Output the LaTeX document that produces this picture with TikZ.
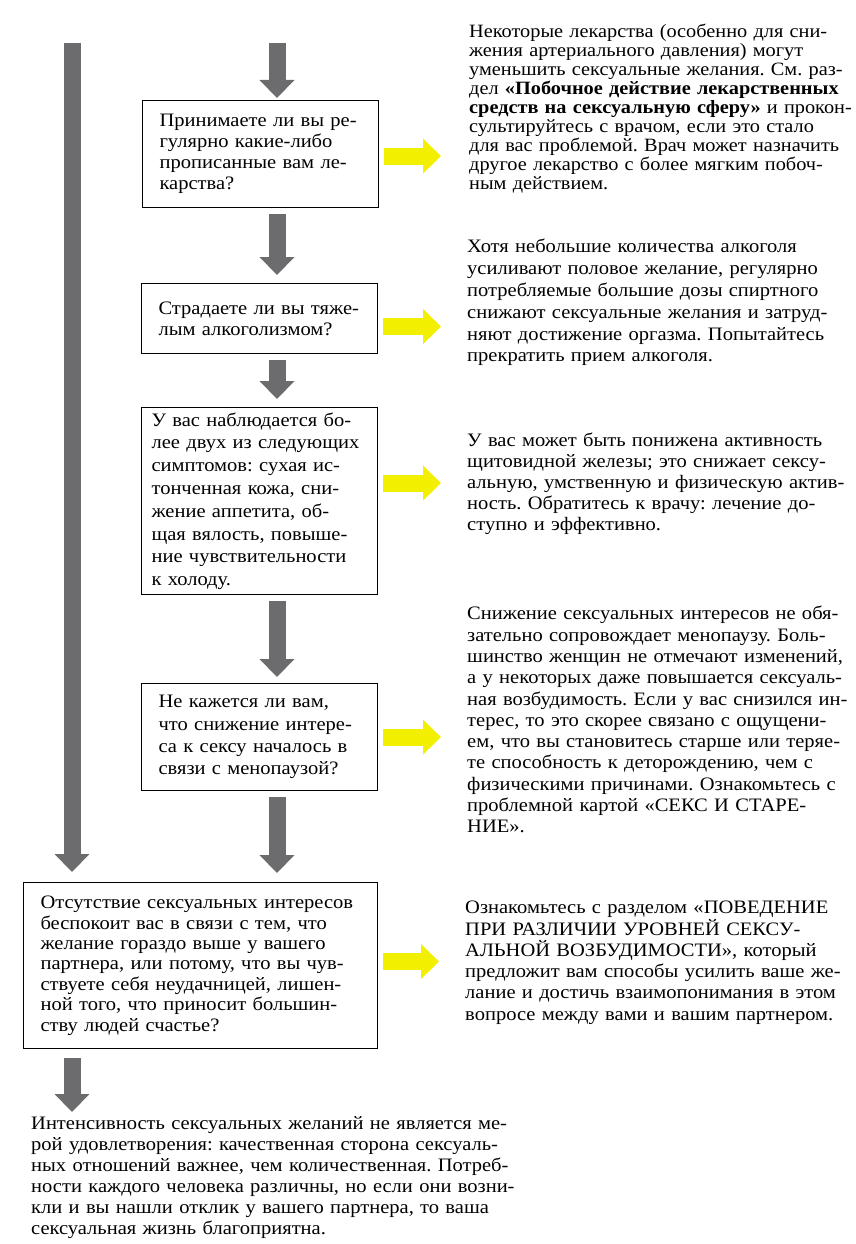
\documentclass[tikz,border=0pt]{standalone}
\usepackage{fontspec}
\setmainfont{Liberation Serif}[FakeStretch=1.08]
\usetikzlibrary{arrows.meta}
\frenchspacing

\definecolor{arrowgray}{RGB}{108,108,110}
\definecolor{arrowyellow}{RGB}{242,240,0}

\begin{document}
\begin{tikzpicture}[x=1pt,y=-1pt,
  qbox/.style={draw,line width=1.1pt,inner xsep=17pt,inner ysep=0pt,align=left,
    anchor=north west,font=\fontsize{19}{21}\selectfont},
  note/.style={inner sep=0pt,align=left,anchor=north west,text width=390pt,
    font=\fontsize{19}{21}\selectfont},
  grayarrow/.style={draw=arrowgray,line width=17pt,-{Triangle[length=18pt,width=34pt]}},
  yellowarrow/.style={draw=arrowyellow,line width=17pt,-{Triangle[length=18pt,width=34pt]}}]
\useasboundingbox (0,0) rectangle (856,1244);

% questions
\node[qbox,text width=202pt,minimum height=107pt] (q1) at (142,100)
  {Принимаете ли вы ре-\\гулярно какие-либо\\прописанные вам ле-\\карства?};
\node[qbox,text width=202pt,minimum height=70pt] (q2) at (141,283)
  {Страдаете ли вы тяже-\\лым алкоголизмом?};
\node[qbox,inner xsep=10pt,text width=216pt,minimum height=187pt,
  font=\fontsize{19}{22.8}\selectfont] (q3) at (141,407)
  {У вас наблюдается бо-\\лее двух из следующих\\симптомов: сухая ис-\\тонченная кожа, сни-\\жение аппетита, об-\\щая вялость, повыше-\\ние чувствительности\\к холоду.};
\node[qbox,text width=202pt,minimum height=107pt,
  font=\fontsize{19}{22.2}\selectfont] (q4) at (141,683)
  {Не кажется ли вам,\\что снижение интере-\\са к сексу началось в\\связи с менопаузой?};
\node[qbox,text width=320pt,minimum height=166pt,
  font=\fontsize{19}{20.4}\selectfont] (q5) at (23,882)
  {Отсутствие сексуальных интересов\\беспокоит вас в связи с тем, что\\желание гораздо выше у вашего\\партнера, или потому, что вы чув-\\ствуете себя неудачницей, лишен-\\ной того, что приносит большин-\\ству людей счастье?};

% answers
\node[note,font=\fontsize{18.8}{19}\selectfont] (n1) at (469,24)
  {Некоторые лекарства (особенно для сни-\\жения артериального давления) могут\\уменьшить сексуальные желания. См. раз-\\дел \textbf{«Побочное действие лекарственных}\\\textbf{средств на сексуальную сферу»} и прокон-\\сультируйтесь с врачом, если это стало\\для вас проблемой. Врач может назначить\\другое лекарство с более мягким побоч-\\ным действием.};
\node[note,font=\fontsize{19}{21.8}\selectfont] (n2) at (467,239)
  {Хотя небольшие количества алкоголя\\усиливают половое желание, регулярно\\потребляемые большие дозы спиртного\\снижают сексуальные желания и затруд-\\няют достижение оргазма. Попытайтесь\\прекратить прием алкоголя.};
\node[note,font=\fontsize{19}{20.8}\selectfont] (n3) at (467,433)
  {У вас может быть понижена активность\\щитовидной железы; это снижает сексу-\\альную, умственную и физическую актив-\\ность. Обратитесь к врачу: лечение до-\\ступно и эффективно.};
\node[note,font=\fontsize{19}{21.3}\selectfont] (n4) at (467,606)
  {Снижение сексуальных интересов не обя-\\зательно сопровождает менопаузу. Боль-\\шинство женщин не отмечают изменений,\\а у некоторых даже повышается сексуаль-\\ная возбудимость. Если у вас снизился ин-\\терес, то это скорее связано с ощущени-\\ем, что вы становитесь старше или теряе-\\те способность к деторождению, чем с\\физическими причинами. Ознакомьтесь с\\проблемной картой «СЕКС И СТАРЕ-\\НИЕ».};
\node[note,font=\fontsize{19}{21.3}\selectfont] (n5) at (465,901)
  {Ознакомьтесь с разделом «ПОВЕДЕНИЕ\\ПРИ РАЗЛИЧИИ УРОВНЕЙ СЕКСУ-\\АЛЬНОЙ ВОЗБУДИМОСТИ», который\\предложит вам способы усилить ваше же-\\лание и достичь взаимопонимания в этом\\вопросе между вами и вашим партнером.};
\node[note,text width=560pt] (n6) at (31,1116)
  {Интенсивность сексуальных желаний не является ме-\\рой удовлетворения: качественная сторона сексуаль-\\ных отношений важнее, чем количественная. Потреб-\\ности каждого человека различны, но если они возни-\\кли и вы нашли отклик у вашего партнера, то ваша\\сексуальная жизнь благоприятна.};

% gray arrows
\coordinate (midtop) at (277,43);
\coordinate (lefttop) at (72,43);
\draw[grayarrow,shorten >=2pt] (midtop) -- (midtop |- q1.north);
\draw[grayarrow,shorten <=6pt,shorten >=8pt] (midtop |- q1.south) -- (midtop |- q2.north);
\draw[grayarrow,shorten <=6pt,shorten >=8pt] (midtop |- q2.south) -- (midtop |- q3.north);
\draw[grayarrow,shorten <=6pt,shorten >=6pt] (midtop |- q3.south) -- (midtop |- q4.north);
\draw[grayarrow,shorten <=6pt,shorten >=9pt] (midtop |- q4.south) -- (midtop |- q5.north);
\draw[grayarrow,shorten >=10pt] (lefttop) -- (lefttop |- q5.north);
\draw[grayarrow,shorten <=9pt,shorten >=4pt] (lefttop |- q5.south) -- (lefttop |- n6.north);

% yellow arrows
\draw[yellowarrow,shorten <=5pt,shorten >=28pt] ([yshift=-2pt]q1.east) -- ([yshift=-2pt]q1.east -| n1.west);
\draw[yellowarrow,shorten <=5pt,shorten >=26pt] ([yshift=-8pt]q2.east) -- ([yshift=-8pt]q2.east -| n2.west);
\draw[yellowarrow,shorten <=5pt,shorten >=26pt] ([yshift=18pt]q3.east) -- ([yshift=18pt]q3.east -| n3.west);
\draw[yellowarrow,shorten <=5pt,shorten >=26pt] (q4.east) -- (q4.east -| n4.west);
\draw[yellowarrow,shorten <=5pt,shorten >=26pt] ([yshift=4pt]q5.east) -- ([yshift=4pt]q5.east -| n5.west);
\end{tikzpicture}
\end{document}
